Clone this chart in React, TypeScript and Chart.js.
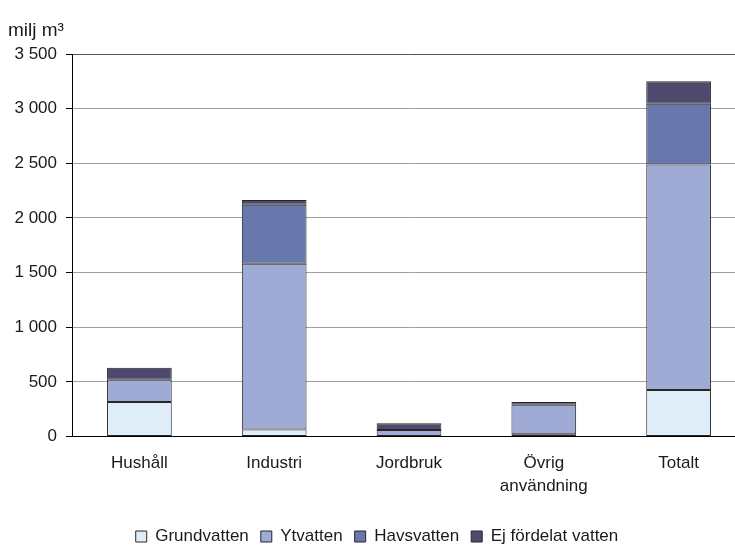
import React, { useEffect, useRef } from 'react';
import { Chart, registerables } from 'chart.js';

Chart.register(...registerables);

// ---- Data ----
const categories: (string | string[])[] = ['Hushåll', 'Industri', 'Jordbruk', ['Övrig', 'användning'], 'Totalt'];
const seriesNames = ['Grundvatten', 'Ytvatten', 'Havsvatten', 'Ej fördelat vatten'];
const grundvatten = [315, 65, 0, 20, 425];
const ytvatten = [205, 1515, 60, 270, 2065];
const havsvatten = [0, 540, 0, 0, 555];
const ejFordelat = [110, 45, 62, 25, 205];
const yMin = 0;
const yMax = 3500;
const yStep = 500;
const yAxisTitle = 'milj m³';

const seriesColors = ['#dfedf8', '#a0abd5', '#6878ac', '#4e4a6e'];
const FONT = "'Liberation Sans', Arial, sans-serif";
const TEXT = '#1a1a1a';

const fmt = (v: number) => String(v).replace(/\B(?=(\d{3})+(?!\d))/g, ' ');

export default function App() {
  const ref = useRef<HTMLCanvasElement | null>(null);

  useEffect(() => {
    if (!ref.current) return;
    const values = [grundvatten, ytvatten, havsvatten, ejFordelat];
    const chart = new Chart(ref.current, {
      type: 'bar',
      data: {
        labels: categories as any,
        datasets: seriesNames.map((name, i) => ({
          label: name,
          data: values[i],
          backgroundColor: seriesColors[i],
          borderColor: '#262626',
          borderWidth: 1,
          borderSkipped: false,
          barPercentage: 0.48,
          categoryPercentage: 1,
        })),
      },
      options: {
        animation: false,
        responsive: true,
        maintainAspectRatio: false,
        layout: { padding: { left: 0, right: 7, top: 0, bottom: 0 } },
        plugins: {
          title: {
            display: true,
            text: yAxisTitle,
            align: 'start',
            color: TEXT,
            font: { family: FONT, size: 19, weight: 'normal' },
            padding: { top: 11, bottom: 12.2 },
          },
          legend: {
            position: 'bottom',
            labels: {
              boxWidth: 11,
              boxHeight: 11,
              padding: 12,
              color: TEXT,
              font: { family: FONT, size: 17 },
            },
          },
          tooltip: { enabled: false },
        },
        scales: {
          x: {
            stacked: true,
            grid: { display: false, drawTicks: false },
            border: { color: '#000', width: 1 },
            ticks: {
              color: TEXT,
              padding: 15.5,
              maxRotation: 0,
              autoSkip: false,
              font: { family: FONT, size: 17, lineHeight: 1.35 },
            },
            afterFit: (s: any) => {
              s.height = 79.5;
            },
          },
          y: {
            stacked: true,
            min: yMin,
            max: yMax,
            ticks: {
              stepSize: yStep,
              padding: 9,
              color: TEXT,
              font: { family: FONT, size: 17 },
              callback: (v: any) => fmt(Number(v)),
            },
            grid: {
              color: (c: any) => (c.tick && c.tick.value === 0 ? '#000' : c.tick && c.tick.value === yMax ? '#555' : '#a0a0a0'),
              tickColor: '#000',
              tickLength: 6,
            },
            border: { color: '#000', width: 1 },
            afterFit: (s: any) => {
              s.width = 64;
            },
          },
        },
      },
    });
    return () => chart.destroy();
  }, []);

  return (
    <div style={{ position: 'fixed', left: 8, top: 8, width: 727, height: 537, overflow: 'hidden', background: '#fff' }}>
      <div style={{ position: 'relative', width: 745, height: 547 }}>
        <canvas ref={ref} />
      </div>
    </div>
  );
}
